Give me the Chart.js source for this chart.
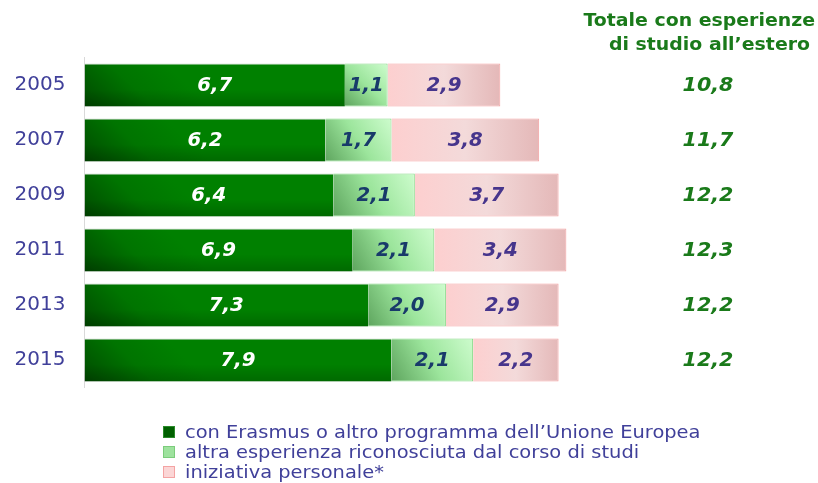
<!DOCTYPE html>
<html>
<head>
<meta charset="utf-8">
<script src="https://cdn.jsdelivr.net/npm/chart.js@4"></script>
<style>
html,body{margin:0;padding:0;background:#fff;}
#wrap{position:relative;width:818px;height:483px;}
</style>
</head>
<body>
<div id="wrap"><canvas id="c" width="818" height="483"></canvas></div>
<script>
const years = ['2005','2007','2009','2011','2013','2015'];
const erasmus = [6.7, 6.2, 6.4, 6.9, 7.3, 7.9];
const altra = [1.1, 1.7, 2.1, 2.1, 2.0, 2.1];
const personale = [2.9, 3.8, 3.7, 3.4, 2.9, 2.2];
const totali = [10.8, 11.7, 12.2, 12.3, 12.2, 12.2];
const seriesLabels = ['con Erasmus o altro programma dell\u2019Unione Europea','altra esperienza riconosciuta dal corso di studi','iniziativa personale*'];
const headerLines = ['Totale con esperienze','di studio all\u2019estero'];

const allSeries = [erasmus, altra, personale];
const BAR_PCT = 0.78;

function barGeom(c){
  const ch = c.chart;
  const xs = ch.scales.x, ys = ch.scales.y;
  if (!xs || !ys || !ch.chartArea) return null;
  let start = 0;
  for (let d = 0; d < c.datasetIndex; d++) start += allSeries[d][c.dataIndex];
  const v = allSeries[c.datasetIndex][c.dataIndex];
  const x0 = xs.getPixelForValue(start), x1 = xs.getPixelForValue(start + v);
  const yc = ys.getPixelForValue(c.dataIndex);
  const h = (ys.getPixelForValue(1) - ys.getPixelForValue(0)) * BAR_PCT;
  return {x0, x1, yt: yc - h/2, yb: yc + h/2};
}
function gradFor(kind){
  return function(c){
    const g = barGeom(c);
    const ctx = c.chart.ctx;
    if (!g) return kind===0?'#007800':kind===1?'#90dd90':'#f6d2d2';
    let gr;
    if (kind===0){
      gr = ctx.createLinearGradient(g.x0, g.yb, g.x0 + 60, g.yt - 20);
      gr.addColorStop(0,'#004a00'); gr.addColorStop(0.55,'#007400'); gr.addColorStop(1,'#008000');
    } else if (kind===1){
      gr = ctx.createLinearGradient(g.x0, g.yb, g.x1, g.yt);
      gr.addColorStop(0,'#5ea55e'); gr.addColorStop(0.5,'#9ce59c'); gr.addColorStop(1,'#cdfccd');
    } else {
      gr = ctx.createLinearGradient(g.x0, 0, g.x1, 0);
      gr.addColorStop(0,'#fdcfcf'); gr.addColorStop(0.5,'#f3dada'); gr.addColorStop(1,'#e4b8b8');
    }
    return gr;
  };
}

const labelColors = ['#ffffff','#183a6a','#46358c'];

function wideText(ctx, text, x, y, sx){
  ctx.save();
  ctx.translate(x, y);
  ctx.scale(sx, 1);
  ctx.fillText(text, 0, 0);
  ctx.restore();
}

const valueLabels = {
  id:'valueLabels',
  beforeDatasetsDraw(chart){
    // subtle darker shading at the bottom of the dark green bars
    const ctx = chart.ctx;
    ctx.save();
    chart.getDatasetMeta(0).data.forEach((el) => {
      const p = el.getProps(['x','base','y','height'], true);
      const g = ctx.createLinearGradient(0, p.y - p.height/2, 0, p.y + p.height/2);
      g.addColorStop(0,'rgba(0,0,0,0)'); g.addColorStop(0.6,'rgba(0,0,0,0)'); g.addColorStop(1,'rgba(0,0,0,0.18)');
      el._shade = g;
    });
    ctx.restore();
  },
  afterDatasetsDraw(chart){
    const ctx = chart.ctx;
    ctx.save();
    chart.getDatasetMeta(0).data.forEach((el) => {
      const p = el.getProps(['x','base','y','height'], true);
      ctx.fillStyle = el._shade;
      ctx.fillRect(p.base, p.y - p.height/2, p.x - p.base, p.height);
    });
    ctx.font = 'italic bold 19px "DejaVu Sans"';
    ctx.textAlign = 'center'; ctx.textBaseline = 'middle';
    chart.data.datasets.forEach((ds, di) => {
      chart.getDatasetMeta(di).data.forEach((el, i) => {
        const p = el.getProps(['x','base','y'], true);
        ctx.fillStyle = labelColors[di];
        wideText(ctx, ds.data[i].toFixed(1).replace('.', ','), (p.x + p.base)/2, p.y + 1, 1.04);
      });
    });
    // totals
    ctx.fillStyle = '#1a7a1a';
    ctx.font = 'italic bold 20px "DejaVu Sans"';
    const ys = chart.scales.y;
    totali.forEach((t, i) => {
      wideText(ctx, t.toFixed(1).replace('.', ','), 708, ys.getPixelForValue(i) + 1, 1.03);
    });
    // header
    ctx.font = 'bold 18px "DejaVu Sans"';
    ctx.textAlign = 'right';
    wideText(ctx, headerLines[0], 815, 21, 1.05);
    wideText(ctx, headerLines[1], 810, 45, 1.05);
    // legend
    const fills = [['#006000','#2a8a2a'],['#9ee29e','#7ccc7c'],['#fbd6d6','#f4a3a3']];
    ctx.font = '18px "DejaVu Sans"';
    ctx.textAlign = 'left';
    seriesLabels.forEach((lab, i) => {
      const y = 432 + i*20;
      ctx.fillStyle = fills[i][0];
      ctx.fillRect(163, y-6, 12, 12);
      ctx.strokeStyle = fills[i][1]; ctx.lineWidth = 1;
      ctx.strokeRect(163.5, y-5.5, 11, 11);
      ctx.fillStyle = '#40409a';
      wideText(ctx, lab, 185, y + 1, 1.08);
    });
    ctx.restore();
  }
};

new Chart(document.getElementById('c'), {
  type: 'bar',
  data: {
    labels: years,
    datasets: [
      {label: seriesLabels[0], data: erasmus, backgroundColor: gradFor(0), borderColor: '#c8d8c8', borderWidth: {top:1,bottom:0,left:0,right:0}},
      {label: seriesLabels[1], data: altra, backgroundColor: gradFor(1), borderColor: '#86d886', borderWidth: 1},
      {label: seriesLabels[2], data: personale, backgroundColor: gradFor(2), borderColor: '#f5a3a3', borderWidth: 1}
    ]
  },
  options: {
    indexAxis: 'y',
    responsive: false,
    animation: false,
    layout: {padding: {left: 0, right: 34, top: 57.5, bottom: 95.5}},
    datasets: {bar: {categoryPercentage: 1, barPercentage: BAR_PCT}},
    plugins: {legend: {display: false}, tooltip: {enabled: false}},
    scales: {
      x: {stacked: true, min: 0, max: 18, display: false},
      y: {
        stacked: true,
        afterFit(s){ s.width = 84.5; },
        grid: {display: false, drawTicks: false},
        border: {display: true, color: '#d9d9d9', width: 1},
        ticks: {color: '#40409a', font: {family: 'DejaVu Sans', size: 20}, padding: 19}
      }
    }
  },
  plugins: [valueLabels]
});
</script>
</body>
</html>
